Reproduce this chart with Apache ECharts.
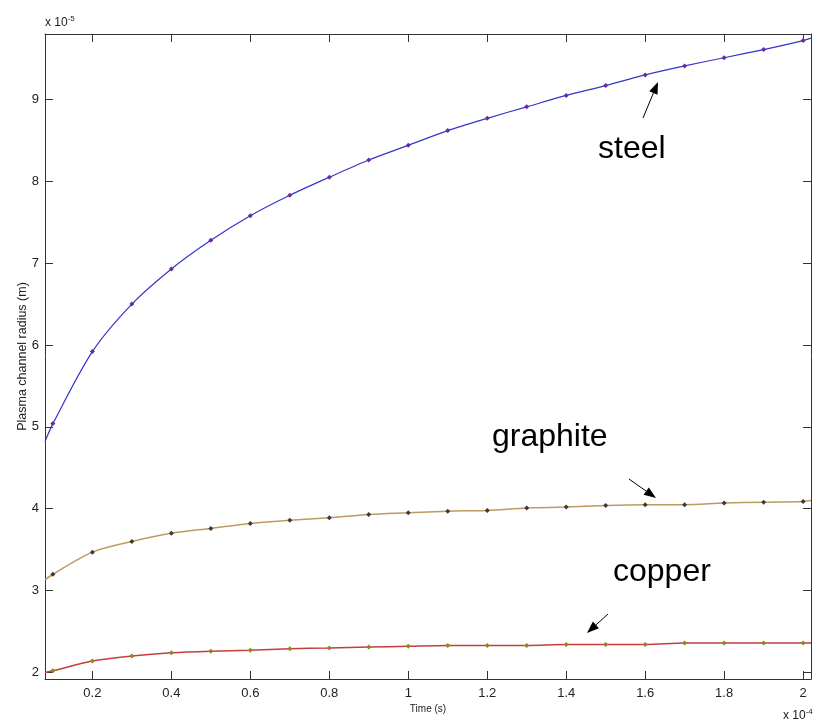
<!DOCTYPE html>
<html>
<head>
<meta charset="utf-8">
<script src="https://cdn.jsdelivr.net/npm/echarts@6/dist/echarts.min.js"></script>
<style>
html,body{margin:0;padding:0;background:#fff;}
#chart{width:822px;height:727px;}
</style>
</head>
<body>
<div id="chart"></div>
<script>
// Time in units of 1e-4 s, radius in units of 1e-5 m
const times = [0.1,0.2,0.3,0.4,0.5,0.6,0.7,0.8,0.9,1.0,1.1,1.2,1.3,1.4,1.5,1.6,1.7,1.8,1.9,2.0];
const steel = [5.04,5.92,6.50,6.93,7.28,7.58,7.83,8.05,8.26,8.44,8.62,8.77,8.91,9.05,9.17,9.30,9.41,9.51,9.61,9.72];
const graphite = [3.20,3.47,3.60,3.70,3.76,3.82,3.86,3.89,3.93,3.95,3.97,3.98,4.01,4.02,4.04,4.05,4.05,4.07,4.08,4.09];
const copper = [2.02,2.14,2.20,2.24,2.26,2.27,2.29,2.30,2.31,2.32,2.33,2.33,2.33,2.34,2.34,2.34,2.36,2.36,2.36,2.36];
// curve ends at the axis limits (no marker there)
const lineStartT = 0.08, lineEndT = 2.02;
const steelEnds = [4.82, 9.75];
const graphiteEnds = [3.13, 4.10];
const copperEnds = [2.00, 2.36];
const xTicks = [0.2,0.4,0.6,0.8,1.0,1.2,1.4,1.6,1.8,2.0];
const yTicks = [2,3,4,5,6,7,8,9];

function buildData(vals, ends){
  const d = [{value:[lineStartT, ends[0]], symbol:'none'}];
  times.forEach((t,i)=>d.push([t, vals[i]]));
  d.push({value:[lineEndT, ends[1]], symbol:'none'});
  return d;
}

const font = 'Liberation Sans, Arial, sans-serif';
const axisCommon = {
  axisLine:{show:true, lineStyle:{color:'#333', width:1}},
  splitLine:{show:false},
};

function arrow(x1,y1,x2,y2){
  const dx=x2-x1, dy=y2-y1, L=Math.hypot(dx,dy), ux=dx/L, uy=dy/L;
  const hl=12, hw=4.5;
  const bx=x2-ux*hl, by=y2-uy*hl;
  return [
    {type:'line', shape:{x1:x1,y1:y1,x2:bx,y2:by}, style:{stroke:'#000', lineWidth:1}},
    {type:'polygon', shape:{points:[[x2,y2],[bx-uy*hw,by+ux*hw],[bx+uy*hw,by-ux*hw]]}, style:{fill:'#000'}}
  ];
}

const chart = echarts.init(document.getElementById('chart'));
const option = {
  animation:false,
  backgroundColor:'#fff',
  grid:{left:45, right:11, top:34, bottom:48},
  xAxis:[
    Object.assign({}, axisCommon, {
      type:'value', min:0.08, max:2.02, position:'bottom',
      name:'Time (s)', nameLocation:'middle', nameGap:25, nameMoveOverlap:false,
      nameTextStyle:{fontFamily:font, fontSize:10, color:'#222'},
      axisTick:{show:true, inside:true, length:8, customValues:xTicks, lineStyle:{color:'#333'}},
      axisLabel:{show:true, customValues:xTicks, fontFamily:font, fontSize:13, color:'#222', margin:8,
        formatter:v=>String(Math.round(v*10)/10)}
    }),
    Object.assign({}, axisCommon, {
      type:'value', min:0.08, max:2.02, position:'top',
      axisTick:{show:true, inside:true, length:8, customValues:xTicks, lineStyle:{color:'#333'}},
      axisLabel:{show:false}
    })
  ],
  yAxis:[
    Object.assign({}, axisCommon, {
      type:'value', min:1.92, max:9.8, position:'left',
      name:'Plasma channel radius (m)', nameLocation:'middle', nameGap:16, nameMoveOverlap:false,
      nameTextStyle:{fontFamily:font, fontSize:12.5, color:'#222'},
      axisTick:{show:true, inside:true, length:8, customValues:yTicks, lineStyle:{color:'#333'}},
      axisLabel:{show:true, customValues:yTicks, fontFamily:font, fontSize:13, color:'#222', margin:6}
    }),
    Object.assign({}, axisCommon, {
      type:'value', min:1.92, max:9.8, position:'right',
      axisTick:{show:true, inside:true, length:8, customValues:yTicks, lineStyle:{color:'#333'}},
      axisLabel:{show:false}
    })
  ],
  series:[
    {name:'steel', type:'line', smooth:0.3, data:buildData(steel, steelEnds),
     symbol:'diamond', symbolSize:5, showAllSymbol:true,
     lineStyle:{color:'#3535c8', width:1.2}, itemStyle:{color:'#6a2a9a'}},
    {name:'graphite', type:'line', smooth:0.3, data:buildData(graphite, graphiteEnds),
     symbol:'diamond', symbolSize:5, showAllSymbol:true,
     lineStyle:{color:'#c09a60', width:1.5}, itemStyle:{color:'#3a3a3a'}},
    {name:'copper', type:'line', smooth:0.3, data:buildData(copper, copperEnds),
     symbol:'diamond', symbolSize:5, showAllSymbol:true,
     lineStyle:{color:'#c83c3c', width:1.5}, itemStyle:{color:'#8a8a1a'}}
  ],
  graphic:[
    {type:'text', left:45, top:15, style:{text:'x 10{s|-5}', fontFamily:font, fontSize:12, fill:'#222',
      rich:{s:{fontSize:8, verticalAlign:'top', padding:[0,0,8,0]}}}},
    {type:'text', left:783, top:708, style:{text:'x 10{s|-4}', fontFamily:font, fontSize:12, fill:'#222',
      rich:{s:{fontSize:8, verticalAlign:'top', padding:[0,0,8,0]}}}},
    {type:'text', x:598, y:165, style:{text:'steel', fontFamily:font, fontSize:32, fill:'#000', verticalAlign:'bottom'}},
    {type:'text', x:492, y:453, style:{text:'graphite', fontFamily:font, fontSize:32, fill:'#000', verticalAlign:'bottom'}},
    {type:'text', x:613, y:588, style:{text:'copper', fontFamily:font, fontSize:32, fill:'#000', verticalAlign:'bottom'}}
  ].concat(arrow(643,118,658,82), arrow(629,479,656,498), arrow(608,614,587,633))
};
chart.setOption(option);
</script>
</body>
</html>
